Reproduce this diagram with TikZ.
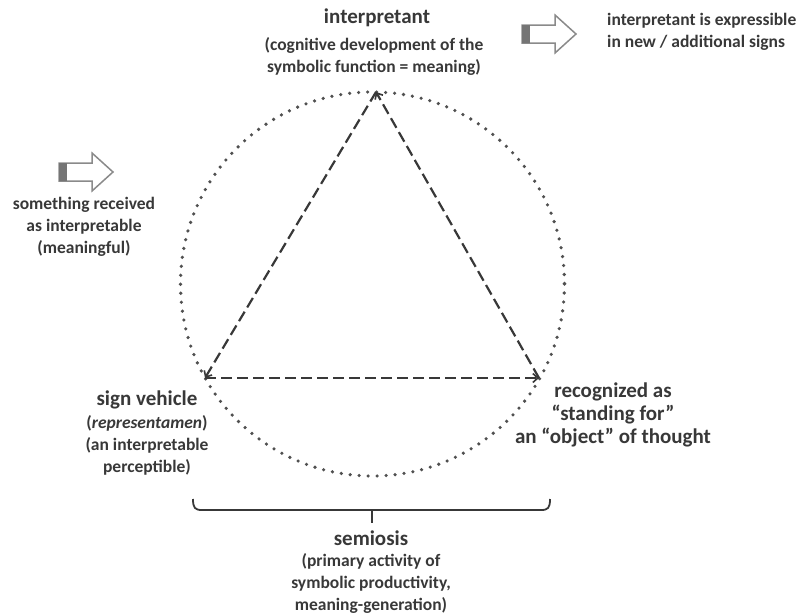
\documentclass[tikz,border=0pt]{standalone}
\usepackage{fontspec}
\setmainfont{Carlito}
\usepackage{xcolor}
\usetikzlibrary{arrows.meta}
\usetikzlibrary{calc}
\usetikzlibrary{positioning}

\definecolor{inkgray}{HTML}{383838}
\definecolor{dotgray}{HTML}{505050}
\definecolor{bargray}{HTML}{8A8A8A}

\tikzset{
  bigtext/.style={text=inkgray, font=\bfseries\fontsize{21}{23}\selectfont, align=center, inner sep=0pt},
  smalltext/.style={text=inkgray, font=\bfseries\fontsize{17.5}{22}\selectfont, align=center, inner sep=0pt},
  sideline/.style={draw=inkgray, line width=2.2pt, dash pattern=on 11pt off 5pt,
    -{Straight Barb[length=5pt, width=9pt, line width=1.6pt]}},
  blockarrow/.style={draw=bargray, line width=1.5pt, fill=white},
}

\begin{document}
\begin{tikzpicture}[x=1pt, y=-1pt]
  \useasboundingbox (0,0) rectangle (808,613);

  % triangle corners
  \coordinate (top) at (376,92);
  \coordinate (left) at (205,378);
  \coordinate (right) at (539,378);
  \coordinate (centre) at (372.5,284);

  % dotted circle through the corners
  \draw[dotgray, line width=3.6pt, line cap=round, dash pattern=on 0pt off 9pt]
    (centre) circle[radius=192];

  % dashed triangle
  \draw[sideline] (left) -- (right);
  \draw[sideline] (right) -- (top);
  \draw[sideline] (top) -- (left);

  % block arrows
  \foreach \ax/\ay in {522/34, 59/172}{
    \draw[blockarrow] (\ax,\ay-9) -- (\ax+33,\ay-9) -- (\ax+33,\ay-19) -- (\ax+54,\ay)
      -- (\ax+33,\ay+19) -- (\ax+33,\ay+9) -- (\ax,\ay+9) -- cycle;
    \fill[bargray!85!black] (\ax,\ay-9) rectangle (\ax+8,\ay+9);
  }

  % labels
  \node[bigtext] (interp) at (377,18) {interpretant};
  \node[smalltext] (interpnote) at (374,56) {(cognitive development of the\\symbolic function = meaning)};
  \node[smalltext, align=left, anchor=west] (expressible) at (607,32) {interpretant is expressible\\in new / additional signs};
  \node[smalltext] (received) at (84,227) {something received\\as interpretable\\(meaningful)};

  \node[bigtext] (vehicle) at (147,400) {sign vehicle};
  \node[smalltext, below=6pt of vehicle] (vehiclenote) {(\textit{representamen})\\(an interpretable\\perceptible)};

  \node[bigtext] (standing) at (613,415) {recognized as\\“standing for”\\an “object” of thought};

  % bracket under the circle
  \coordinate (braceL) at (193,499);
  \coordinate (braceR) at (550,499);
  \coordinate (braceM) at (372,510);
  \coordinate (braceT) at (372,523);
  \draw[inkgray, line width=1.8pt] (braceL) .. controls ($(braceL)+(0,9)$) and ($(braceL)+(2,11)$) .. ($(braceL)+(9,11)$)
    -- ($(braceR)+(-9,11)$) .. controls ($(braceR)+(-2,11)$) and ($(braceR)+(0,9)$) .. (braceR);
  \draw[inkgray, line width=1.8pt] (braceM) -- (braceT);

  \node[bigtext] (semiosis) at (371,538) {semiosis};
  \node[smalltext] (semiosisnote) at (371,583) {(primary activity of\\symbolic productivity,\\meaning-generation)};

\end{tikzpicture}
\end{document}
